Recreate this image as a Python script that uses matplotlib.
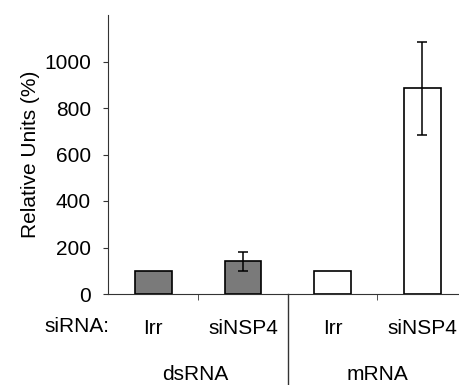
import matplotlib.pyplot as plt
import matplotlib.transforms as mtransforms

plt.rcParams["font.family"] = ["Liberation Sans", "DejaVu Sans"]

# data
groups = ["dsRNA", "mRNA"]
sirna = ["Irr", "siNSP4", "Irr", "siNSP4"]
values = [100, 140, 100, 885]
errors = [0, 42, 0, 200]
fills = ["#7a7a7a", "#7a7a7a", "white", "white"]
yticks = [0, 200, 400, 600, 800, 1000]

fig = plt.figure(figsize=(4.6, 3.85), dpi=100)
ax = fig.add_axes([108.5 / 460, 91 / 385, 358.5 / 460, 279 / 385])

x = range(len(values))
ax.bar(x, values, width=0.41, color=fills, edgecolor="black", linewidth=1.2)
for xi, v, e in zip(x, values, errors):
    if e:
        ax.errorbar(xi, v, yerr=e, fmt="none", ecolor="black",
                    elinewidth=1.1, capsize=3.5, capthick=1.1)

ax.set_xlim(-0.5, 3.5)
ax.set_ylim(0, 1200)
ax.set_yticks(yticks)
ax.tick_params(axis="y", labelsize=15, length=3.6, pad=9, color="#333333")
ax.set_ylabel("Relative Units (%)", fontsize=15)
ax.yaxis.set_label_coords(-0.19, 0.5)

ax.set_xticks(list(x))
ax.set_xticklabels(sirna, fontsize=15)
ax.tick_params(axis="x", which="major", length=0, pad=18)
ax.set_xticks([0.5, 2.5], minor=True)
ax.tick_params(axis="x", which="minor", length=4, color="#333333")

for s in ("top", "right"):
    ax.spines[s].set_visible(False)
for s in ("left", "bottom"):
    ax.spines[s].set_color("#333333")

trans = mtransforms.blended_transform_factory(ax.transData, ax.transAxes)
ax.plot([1.5, 1.5], [0, -0.33], transform=trans, color="#333333",
        linewidth=1.0, clip_on=False)
for i, g in enumerate(groups):
    ax.text(2 * i + 0.5 - 0.03 * (1 - i), -0.288, g, transform=trans,
            ha="center", va="center", fontsize=15)
fig.text(77 / 460, 1 - 327 / 385, "siRNA:", ha="center", va="center",
         fontsize=15)

fig.savefig("out.png", dpi=100)
